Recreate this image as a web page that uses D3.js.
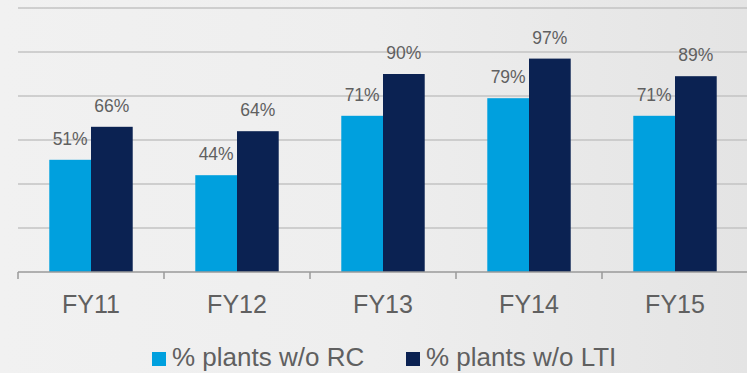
<!DOCTYPE html>
<html>
<head>
<meta charset="utf-8">
<script src="https://cdn.jsdelivr.net/npm/d3@7"></script>
<style>
  html, body { margin: 0; padding: 0; }
  body { width: 747px; height: 373px; overflow: hidden; }
  svg { display: block; }
</style>
</head>
<body>
<script>
// Share of plants without recordable cases (RC) and lost-time injuries (LTI)
const categories = ["FY11", "FY12", "FY13", "FY14", "FY15"];
const seriesNames = ["% plants w/o RC", "% plants w/o LTI"];
const valuesRC = [51, 44, 71, 79, 71];
const valuesLTI = [66, 64, 90, 97, 89];
const gridTicks = [20, 40, 60, 80, 100, 120];

const colors = ["#00a0de", "#0b2252"];
const W = 747, H = 373;
const font = "'Liberation Sans', Arial, sans-serif";
const textColor = "#606060";

const svg = d3.select("body").append("svg")
  .attr("width", W).attr("height", H);

// soft grey background, slightly darker toward the right
const defs = svg.append("defs");
const bg = defs.append("linearGradient").attr("id", "bg")
  .attr("x1", "0").attr("y1", "0").attr("x2", "1").attr("y2", "0");
bg.append("stop").attr("offset", "0").attr("stop-color", "#f1f1f1");
bg.append("stop").attr("offset", "0.5").attr("stop-color", "#eeeeee");
bg.append("stop").attr("offset", "1").attr("stop-color", "#e4e4e4");
svg.append("rect").attr("width", W).attr("height", H).attr("fill", "url(#bg)");

const x0 = d3.scaleBand().domain(categories).range([18, 748]).paddingInner(0).paddingOuter(0);
const x1 = d3.scaleBand().domain(seriesNames).range([0, x0.bandwidth()])
  .paddingInner(0).paddingOuter(0.75);
const y = d3.scaleLinear().domain([0, 120]).range([272, 8]);

// horizontal gridlines
svg.append("g").selectAll("line").data(gridTicks).join("line")
  .attr("x1", 18).attr("x2", W)
  .attr("y1", d => y(d)).attr("y2", d => y(d))
  .attr("stroke", "#c3c3c3").attr("stroke-width", 1.5);

const rows = categories.map((c, i) => ({
  cat: c,
  vals: [valuesRC[i], valuesLTI[i]].map((v, j) => ({ key: seriesNames[j], v, j }))
}));

const groups = svg.append("g").selectAll("g").data(rows).join("g")
  .attr("transform", d => `translate(${x0(d.cat)},0)`);

groups.selectAll("rect").data(d => d.vals).join("rect")
  .attr("x", d => x1(d.key))
  .attr("width", x1.bandwidth())
  .attr("y", d => y(d.v))
  .attr("height", d => y(0) - y(d.v))
  .attr("fill", d => colors[d.j]);

groups.selectAll("text").data(d => d.vals).join("text")
  .attr("x", d => x1(d.key) + x1.bandwidth() / 2)
  .attr("y", d => y(d.v) - 15)
  .attr("text-anchor", "middle")
  .attr("font-family", font).attr("font-size", 17.5)
  .attr("fill", textColor)
  .text(d => d.v + "%");

// category axis
const axis = svg.append("g");
axis.append("line")
  .attr("x1", 18).attr("x2", 748).attr("y1", y(0)).attr("y2", y(0))
  .attr("stroke", "#9a9a9a").attr("stroke-width", 1.5);
const bounds = categories.map(c => x0(c)).concat([x0.range()[1]]);
axis.selectAll("line.tick").data(bounds).join("line")
  .attr("class", "tick")
  .attr("x1", d => d).attr("x2", d => d)
  .attr("y1", y(0)).attr("y2", y(0) + 7)
  .attr("stroke", "#9a9a9a").attr("stroke-width", 1.5);
axis.selectAll("text").data(categories).join("text")
  .attr("x", d => x0(d) + x0.bandwidth() / 2)
  .attr("y", 313)
  .attr("text-anchor", "middle")
  .attr("font-family", font).attr("font-size", 25)
  .attr("fill", textColor)
  .text(d => d);

// legend
const legendX = [152, 406];
const legend = svg.append("g").selectAll("g").data(seriesNames).join("g")
  .attr("transform", (d, i) => `translate(${legendX[i]},0)`);
legend.append("rect")
  .attr("x", 0).attr("y", 352).attr("width", 14).attr("height", 14)
  .attr("fill", (d, i) => colors[i]);
legend.append("text")
  .attr("x", 20).attr("y", 366)
  .attr("font-family", font).attr("font-size", 26)
  .attr("fill", textColor)
  .text(d => d);
</script>
</body>
</html>
